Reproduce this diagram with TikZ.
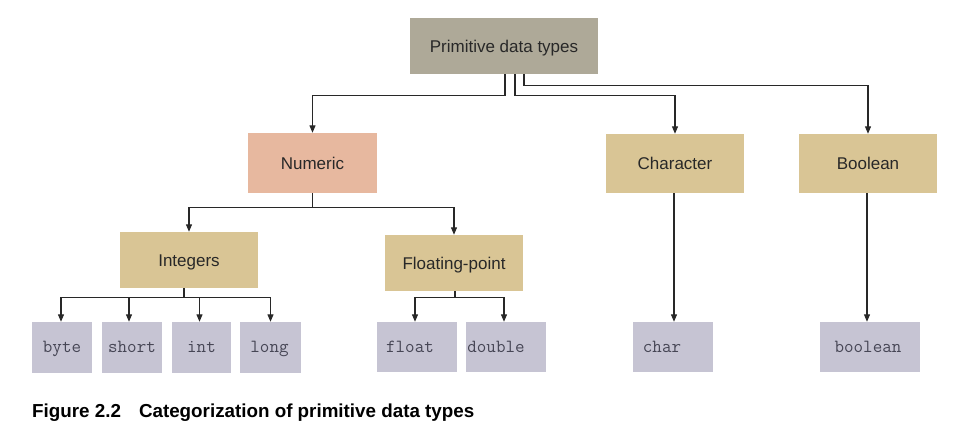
\documentclass[tikz,border=0pt]{standalone}
\usepackage{fontspec}
\setmainfont{Liberation Sans}
\usetikzlibrary{arrows.meta}
\definecolor{topc}{RGB}{174,169,152}
\definecolor{numc}{RGB}{231,184,159}
\definecolor{tanc}{RGB}{217,197,149}
\definecolor{leafc}{RGB}{198,196,211}
\definecolor{linec}{RGB}{40,40,40}
\definecolor{txtc}{RGB}{40,40,40}
\definecolor{monoc}{RGB}{70,70,85}
\tikzset{
  box/.style={draw=none,inner sep=0pt,text=txtc,font=\fontsize{17}{20}\selectfont,text height=13pt,text depth=1pt},
  topbox/.style={box,fill=topc},
  numbox/.style={box,fill=numc},
  tanbox/.style={box,fill=tanc},
  leaf/.style={draw=none,inner sep=0pt,fill=leafc,text=monoc,font=\ttfamily\fontsize{18.5}{21}\selectfont,text height=11pt,text depth=1pt},
  arr/.style={draw=linec,line width=1.1pt,-{Triangle[length=7.5pt,width=6pt]}},
}
\begin{document}
\begin{tikzpicture}[x=1pt,y=-1pt]
\useasboundingbox (0,0) rectangle (967,445);
% nodes
\node[topbox,minimum width=188pt,minimum height=56pt] (prim) at (504,46) {Primitive data types};
\node[numbox,minimum width=129pt,minimum height=60pt] (num) at (312.5,163) {Numeric};
\node[tanbox,minimum width=138pt,minimum height=59pt] (chr) at (675,163.5) {Character};
\node[tanbox,minimum width=138pt,minimum height=59pt] (bool) at (868,163.5) {Boolean};
\node[tanbox,minimum width=138pt,minimum height=56pt] (ints) at (189,260) {Integers};
\node[tanbox,minimum width=138pt,minimum height=56pt] (flt) at (454,263) {Floating-point};
\node[leaf,minimum width=60pt,minimum height=51pt] (byte) at (62,347.5) {byte};
\node[leaf,minimum width=60pt,minimum height=51pt] (short) at (132,347.5) {short};
\node[leaf,minimum width=59pt,minimum height=51pt] (int) at (201.5,347.5) {int};
\node[leaf,minimum width=61pt,minimum height=51pt] (long) at (270.5,347.5) {\hspace*{-2pt}long};
\node[leaf,minimum width=80pt,minimum height=50pt] (float) at (417,347) {\hspace*{-14pt}float};
\node[leaf,minimum width=80pt,minimum height=50pt] (double) at (506,347) {\hspace*{-20pt}double};
\node[leaf,minimum width=80pt,minimum height=50pt] (char) at (673,347) {\hspace*{-22pt}char};
\node[leaf,minimum width=100pt,minimum height=50pt] (boolean) at (870,347) {\hspace*{-4pt}boolean};
% connectors
\draw[arr] ([xshift=1pt]prim.south) -- ++(0,21) -| (num.north);
\draw[arr] ([xshift=11pt]prim.south) -- ++(0,21) -| (chr.north);
\draw[arr] ([xshift=20pt]prim.south) -- ++(0,11) -| (bool.north);
\draw[arr] (num.south) -- ++(0,14) -| (ints.north);
\draw[arr] (num.south) -- ++(0,14) -| (flt.north);
\draw[arr] ([xshift=-5pt]ints.south) -- ++(0,9) -| ([xshift=-1pt]byte.north);
\draw[arr] ([xshift=-5pt]ints.south) -- ++(0,9) -| ([xshift=-3pt]short.north);
\draw[arr] ([xshift=-5pt]ints.south) -- ++(0,9) -| ([xshift=-2pt]int.north);
\draw[arr] ([xshift=-5pt]ints.south) -- ++(0,9) -| (long.north);
\draw[arr] ([xshift=1pt]flt.south) -- ++(0,6) -| ([xshift=-2pt]float.north);
\draw[arr] ([xshift=1pt]flt.south) -- ++(0,6) -| ([xshift=-2pt]double.north);
\draw[arr] ([xshift=-1pt]chr.south) -- ([xshift=-1pt]chr.south |- char.north);
\draw[arr] ([xshift=-1pt]bool.south) -- ([xshift=-1pt]bool.south |- boolean.north);
% caption
\node[anchor=base west,inner sep=0pt,font=\bfseries\fontsize{18.8}{22}\selectfont,text=black] (cap) at (32,417) {Figure 2.2\hspace{18pt}Categorization of primitive data types};
\end{tikzpicture}
\end{document}
